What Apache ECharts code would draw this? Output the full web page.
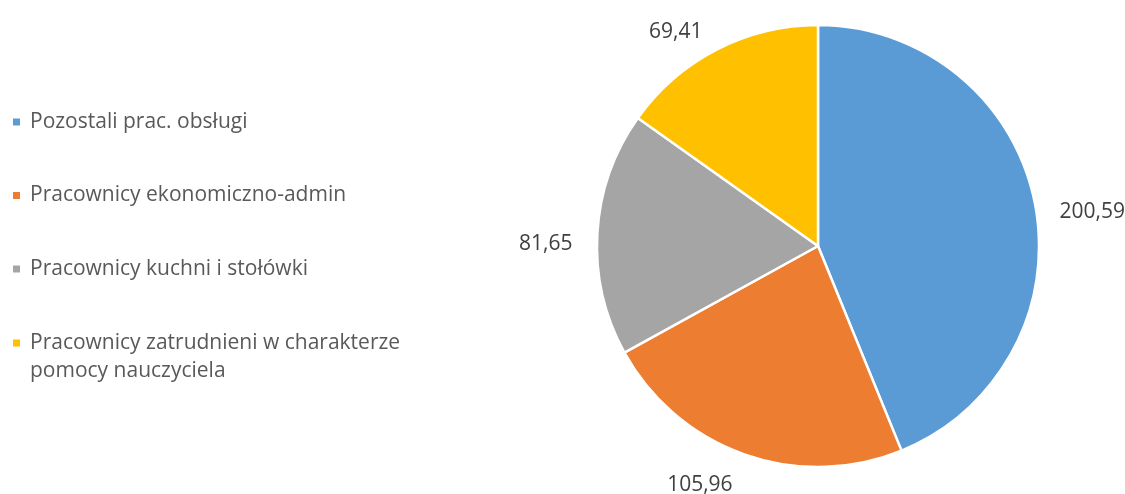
<!DOCTYPE html>
<html>
<head>
<meta charset="utf-8">
<script src="https://cdn.jsdelivr.net/npm/echarts@6/dist/echarts.min.js"></script>
<style>html,body{margin:0;padding:0;background:#fff}#c{width:1125px;height:494px}</style>
</head>
<body>
<div id="c"></div>
<script>
const categories = ['Pozostali prac. obsługi', 'Pracownicy ekonomiczno-admin', 'Pracownicy kuchni i stołówki', 'Pracownicy zatrudnieni w charakterze pomocy nauczyciela'];
const values = [200.59, 105.96, 81.65, 69.41];
const valueLabels = ['200,59', '105,96', '81,65', '69,41'];
const colors = ['#5B9BD5', '#ED7D31', '#A5A5A5', '#FFC000'];

const chart = echarts.init(document.getElementById('c'));
const font = '"Open Sans", sans-serif';
const legendBase = {
  orient: 'vertical',
  left: 11,
  padding: 0,
  itemWidth: 9,
  itemHeight: 9,
  itemGap: 49.5,
  icon: 'rect',
  textStyle: { color: '#595959', fontSize: 21, fontFamily: font, lineHeight: 24, padding: [0, 0, 0, 4] }
};
chart.setOption({
  animation: false,
  color: colors,
  legend: [
    Object.assign({}, legendBase, { top: 110, data: categories.slice(0, 3) }),
    Object.assign({}, legendBase, {
      top: 301,
      data: [categories[3]],
      textStyle: Object.assign({}, legendBase.textStyle, { lineHeight: 28 }),
      formatter: function () { return '\nPracownicy zatrudnieni w charakterze\npomocy nauczyciela'; }
    })
  ],
  series: [{
    type: 'pie',
    center: [818, 246],
    radius: 221,
    startAngle: 90,
    clockwise: true,
    avoidLabelOverlap: false,
    itemStyle: { borderColor: '#fff', borderWidth: 2.5 },
    label: {
      show: true,
      position: 'outside',
      color: '#404040',
      fontSize: 21,
      fontFamily: font,
      formatter: p => valueLabels[p.dataIndex]
    },
    labelLine: { show: false, length: 20, length2: 0 },
    labelLayout: function (p) { return { dy: p.labelRect.y < 60 ? 0 : 12 }; },
    data: categories.map((c, i) => ({ name: c, value: values[i] }))
  }]
});
</script>
</body>
</html>
